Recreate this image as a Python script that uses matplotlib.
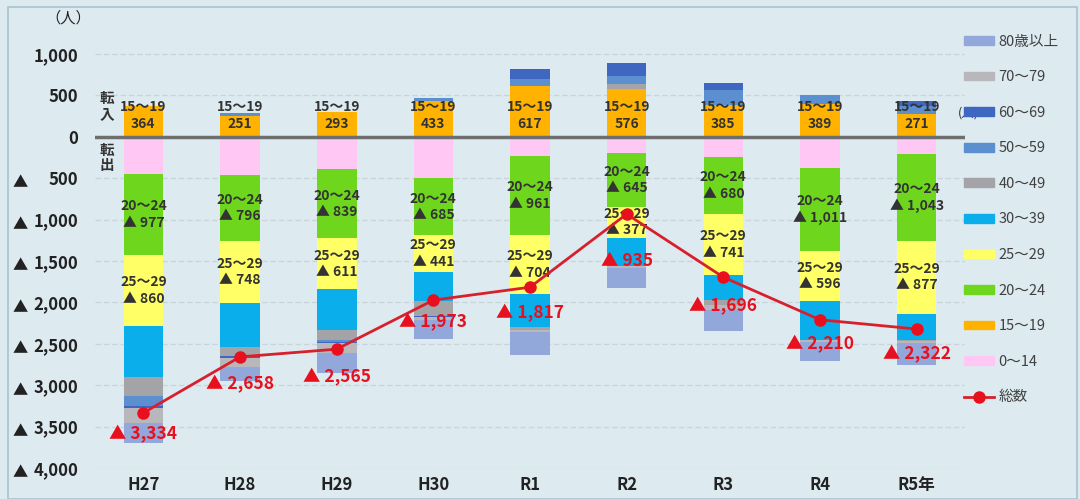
import numpy as np
import matplotlib.pyplot as plt
from matplotlib.patches import Patch, Rectangle
from matplotlib.lines import Line2D

plt.rcParams['font.family'] = ['Noto Sans CJK JP', 'DejaVu Sans']

# net migration by age group (positive = 転入超過, negative = 転出超過)
years = ['H27', 'H28', 'H29', 'H30', 'R1', 'R2', 'R3', 'R4', 'R5年']
a0_14 = [-450, -460, -390, -505, -230, -200, -250, -375, -215]
a15_19 = [364, 251, 293, 433, 617, 576, 385, 389, 271]
a20_24 = [-977, -796, -839, -685, -961, -645, -680, -1011, -1043]
a25_29 = [-860, -748, -611, -441, -704, -377, -741, -596, -877]
a30_39 = [-615, -540, -490, -350, -400, -340, -300, -470, -315]
a40_49 = [-230, -100, -130, -180, -40, 60, -60, 0, -20]
a50_59 = [-120, 40, -20, 35, 80, 95, 180, 110, 100]
a60_69 = [-20, -30, -10, -10, 120, 155, 80, 0, 60]
a70_79 = [-180, -110, -120, -40, -22, -20, -60, -30, -20]
a80 = [-246, -165, -248, -230, -277, -239, -250, -227, -263]
total = [-3334, -2658, -2565, -1973, -1817, -935, -1696, -2210, -2322]

groups = [
    ('0～14', a0_14, '#FFC8F4'),
    ('15～19', a15_19, '#FFB300'),
    ('20～24', a20_24, '#6FD61E'),
    ('25～29', a25_29, '#FFFF66'),
    ('30～39', a30_39, '#0AAEEA'),
    ('40～49', a40_49, '#A3A3A8'),
    ('50～59', a50_59, '#5B8FD0'),
    ('60～69', a60_69, '#3F66C0'),
    ('70～79', a70_79, '#B8B8BC'),
    ('80歳以上', a80, '#92A8DA'),
]

bg = '#DDEBF1'
fig = plt.figure(figsize=(10.8, 4.99), dpi=100, facecolor=bg)
ax = fig.add_axes([0.088, 0.062, 0.8055, 0.880])
ax.set_facecolor(bg)

x = np.arange(len(years))
w = 0.41
pos_b = np.zeros(len(years))
neg_b = np.zeros(len(years))
seg = {}
for name, vals, col in groups:
    v = np.array(vals, dtype=float)
    b = np.where(v >= 0, pos_b, neg_b)
    ax.bar(x, v, w, bottom=b, color=col, zorder=2, linewidth=0)
    seg[name] = (b, v)
    pos_b = pos_b + np.where(v > 0, v, 0)
    neg_b = neg_b + np.where(v < 0, v, 0)

txtc = '#333333'
# labels inside segments
for i in range(len(years)):
    ax.text(x[i], 70, '15～19\n' + f'{a15_19[i]:,}', ha='center', va='bottom',
            fontsize=10, fontweight='bold', color=txtc, linespacing=1.3, zorder=5)
    for name in ['20～24', '25～29']:
        b, v = seg[name]
        cy = b[i] + v[i] / 2
        ax.text(x[i], cy, name + '\n▲ ' + f'{abs(int(v[i])):,}', ha='center', va='center',
                fontsize=10, fontweight='bold', color=txtc, linespacing=1.2, zorder=5)

ax.axhline(0, color='#6E6E6E', lw=2.5, zorder=3)

red = '#E8101E'
ax.plot(x, total, color='#D8202C', lw=2, marker='o', ms=8, mfc=red, mec=red, zorder=6)
offs = [-21, -27, -28, -22, -26, -47, -29, -24, -25]
for i in range(len(years)):
    ax.annotate('▲ ' + f'{abs(total[i]):,}', (x[i], total[i]), xytext=(0, offs[i]),
                textcoords='offset pixels', ha='center', va='center',
                fontsize=12.5, fontweight='bold', color=red, zorder=7)

ax.text(-0.45, 370, '転\n入', ha='left', va='center', fontsize=10.5, fontweight='bold',
        color=txtc, linespacing=0.95)
ax.text(-0.45, -250, '転\n出', ha='left', va='center', fontsize=10.5, fontweight='bold',
        color=txtc, linespacing=0.95)
ax.text(8.43, 290, '(人)', ha='left', va='center', fontsize=9, color=txtc)

ax.set_xlim(-0.5, 8.5)
ax.set_ylim(-4000, 1300)
ticks = np.arange(-4000, 1001, 500)
ax.set_yticks(ticks)
ax.set_yticklabels([f'{abs(t):,}' for t in ticks],
                   fontsize=12, fontweight='bold', color='#222222')
ytr = ax.get_yaxis_transform()
for t in ticks:
    if t < 0:
        ax.annotate('▲', (-0.086, t), xycoords=ytr, xytext=(0, -3),
                    textcoords='offset pixels', ha='center', va='center_baseline',
                    fontsize=11, color='#222222')
ax.set_xticks(x)
ax.set_xticklabels(years, fontsize=12, fontweight='bold', color='#222222')
ax.tick_params(length=0)
ax.tick_params(axis='y', pad=12)
ax.tick_params(axis='x', pad=6)
ax.grid(axis='y', color='#C9D5DB', lw=1, ls=(0, (4, 2)), zorder=0)
for s in ax.spines.values():
    s.set_visible(False)

fig.text(45 / 1080, 1 - 18 / 499, '（人）', ha='left', va='center', fontsize=11,
         color='#222222')

handles = [Patch(color=c) for _, _, c in groups[::-1]]
labels = [n for n, _, _ in groups[::-1]]
handles.append(Line2D([], [], color='#D8202C', lw=2, marker='o', ms=8, mfc=red, mec=red))
labels.append('総数')
leg = fig.legend(handles, labels, loc='upper left', bbox_to_anchor=(0.88, 0.957),
                 frameon=False, fontsize=10.5, handlelength=2.1, handleheight=0.55,
                 labelspacing=1.48, handletextpad=0.3, labelcolor='#404040')

fig.add_artist(Rectangle((0.007, 0.0), 0.99, 0.985, transform=fig.transFigure,
                         fill=False, edgecolor='#A9C3CF', lw=1.2))

fig.savefig('out.png', dpi=100, facecolor=bg)
